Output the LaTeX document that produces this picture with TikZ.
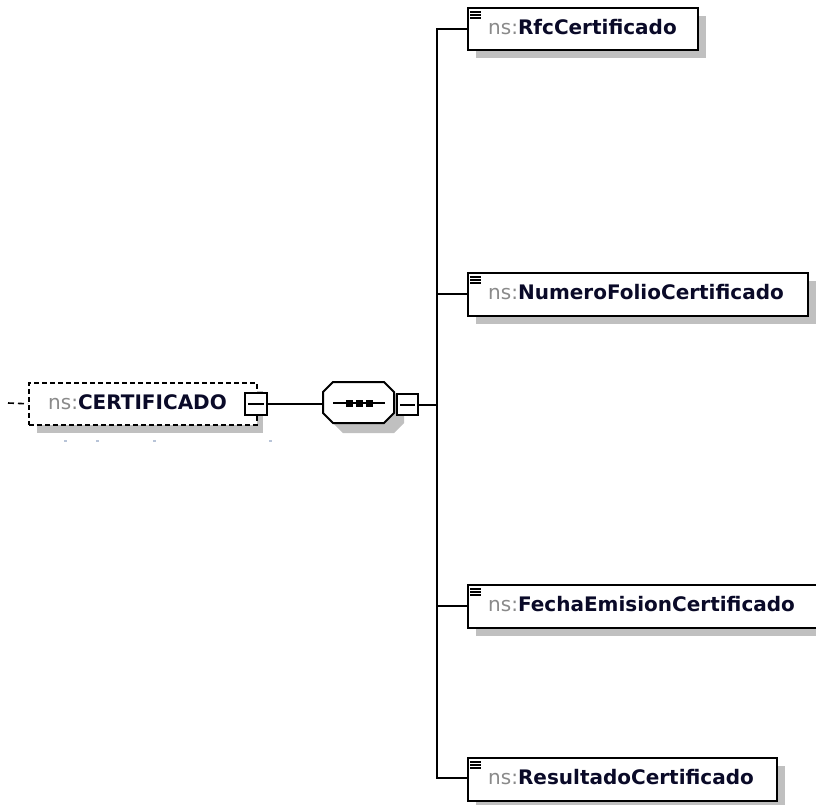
\documentclass[tikz,border=0pt]{standalone}
\usepackage{fontspec}
\setmainfont{DejaVu Sans}
\usetikzlibrary{calc}
\definecolor{nsgray}{HTML}{8A8A8A}
\definecolor{namecol}{HTML}{0A0A28}
\definecolor{shadowgray}{HTML}{C0C0C0}
\definecolor{dotcol}{HTML}{B8C4D8}
\tikzset{
  conn/.style={line width=2pt, black},
  boxstyle/.style={draw=black, line width=2pt, fill=white, inner sep=0pt, anchor=north west},
  shadowbox/.style={fill=shadowgray, draw=none, inner sep=0pt, anchor=north west},
  dashbox/.style={draw=black, line width=1.6pt, dash pattern=on 5pt off 3pt, fill=white, inner sep=0pt, anchor=north west},
  minusbox/.style={draw=black, line width=2pt, fill=white, inner sep=0pt, minimum width=21pt, minimum height=21pt, anchor=north west},
  lbl/.style={anchor=base west, inner sep=0pt, font=\fontsize{20pt}{22pt}\selectfont},
}
\newcommand{\elname}[1]{{\color{nsgray}ns:}{\color{namecol}\bfseries #1}}
\begin{document}
\begin{tikzpicture}[x=1pt,y=-1pt]
\useasboundingbox (0,0) rectangle (816,804);
\fill[white] (0,0) rectangle (816,804);

% ---------- root element ----------
\node[shadowbox, minimum width=226pt, minimum height=42pt] (rootsh) at (37,391) {};
\node[dashbox, minimum width=228pt, minimum height=42pt] (root) at (28,382) {};
\node[lbl] (rootlbl) at ([xshift=20pt,yshift=-27pt]root.north west) {\elname{CERTIFICADO}};
\node[minusbox, minimum width=22pt, minimum height=22pt] (rootminus) at (244,392) {};
\draw[line width=2pt] ([xshift=4pt]rootminus.west) -- ([xshift=-4pt]rootminus.east);
\coordinate (rootin) at (8,403);
\draw[line width=1.6pt, dash pattern=on 6pt off 4pt] (rootin) -- (root.west);
% small dots
\foreach \xx in {65,97,154,270} \fill[dotcol] (\xx-1.5,440) rectangle (\xx+1.5,442);

% ---------- sequence compositor ----------
\fill[shadowgray] (343,392) -- (394,392) -- (404,402) -- (404,423) -- (394,433) -- (343,433) -- (333,423) -- (333,402) -- cycle;
\draw[line width=2pt, fill=white] (333,382) -- (384,382) -- (394,392) -- (394,413) -- (384,423) -- (333,423) -- (323,413) -- (323,392) -- cycle;
\coordinate (seqw) at (323,403);
\draw[line width=2pt] (333,403) -- (385,403);
\foreach \xx in {349,359,369} \fill (\xx-3.5,399.5) rectangle (\xx+3.5,406.5);
\node[minusbox] (seqminus) at (396,393) {};
\draw[line width=2pt] ([xshift=4pt]seqminus.west) -- ([xshift=-4pt]seqminus.east);

\draw[conn] (rootminus.east) -- (rootminus.east -| seqw);

% ---------- children ----------
\coordinate (bus) at (437,403);
\coordinate (bustop) at (437,29);
\coordinate (busbot) at (437,778);
\draw[conn] (seqminus.east) -- (seqminus.east -| bus);
\draw[conn, line cap=rect] (bustop) -- (busbot);

% Rfc
\node[shadowbox, minimum width=230pt, minimum height=42pt] at (476,16) {};
\node[boxstyle, minimum width=230pt, minimum height=42pt] (rfc) at (467,7) {};
% Numero
\node[shadowbox, minimum width=340pt, minimum height=43pt] at (476,281) {};
\node[boxstyle, minimum width=340pt, minimum height=43pt] (num) at (467,272) {};
% Fecha
\node[shadowbox, minimum width=360pt, minimum height=43pt] at (476,593) {};
\node[boxstyle, minimum width=360pt, minimum height=43pt] (fec) at (467,584) {};
% Resultado
\node[shadowbox, minimum width=309pt, minimum height=43pt] at (476,766) {};
\node[boxstyle, minimum width=309pt, minimum height=43pt] (res) at (467,757) {};

\foreach \b/\t in {rfc/RfcCertificado, num/NumeroFolioCertificado, fec/FechaEmisionCertificado, res/ResultadoCertificado}{
  \node[lbl] at ([xshift=21pt,yshift=-27pt]\b.north west) {\elname{\t}};
  \foreach \dy in {5,8,11}
    \draw[line width=1.5pt] ([xshift=3pt,yshift=-\dy pt]\b.north west) -- ([xshift=14pt,yshift=-\dy pt]\b.north west);
}

\draw[conn] (bustop) -- (rfc.west |- bustop);
\draw[conn] (437,294) -- (num.west |- 437,294);
\draw[conn] (437,606) -- (fec.west |- 437,606);
\draw[conn] (busbot) -- (res.west |- busbot);
\end{tikzpicture}
\end{document}
